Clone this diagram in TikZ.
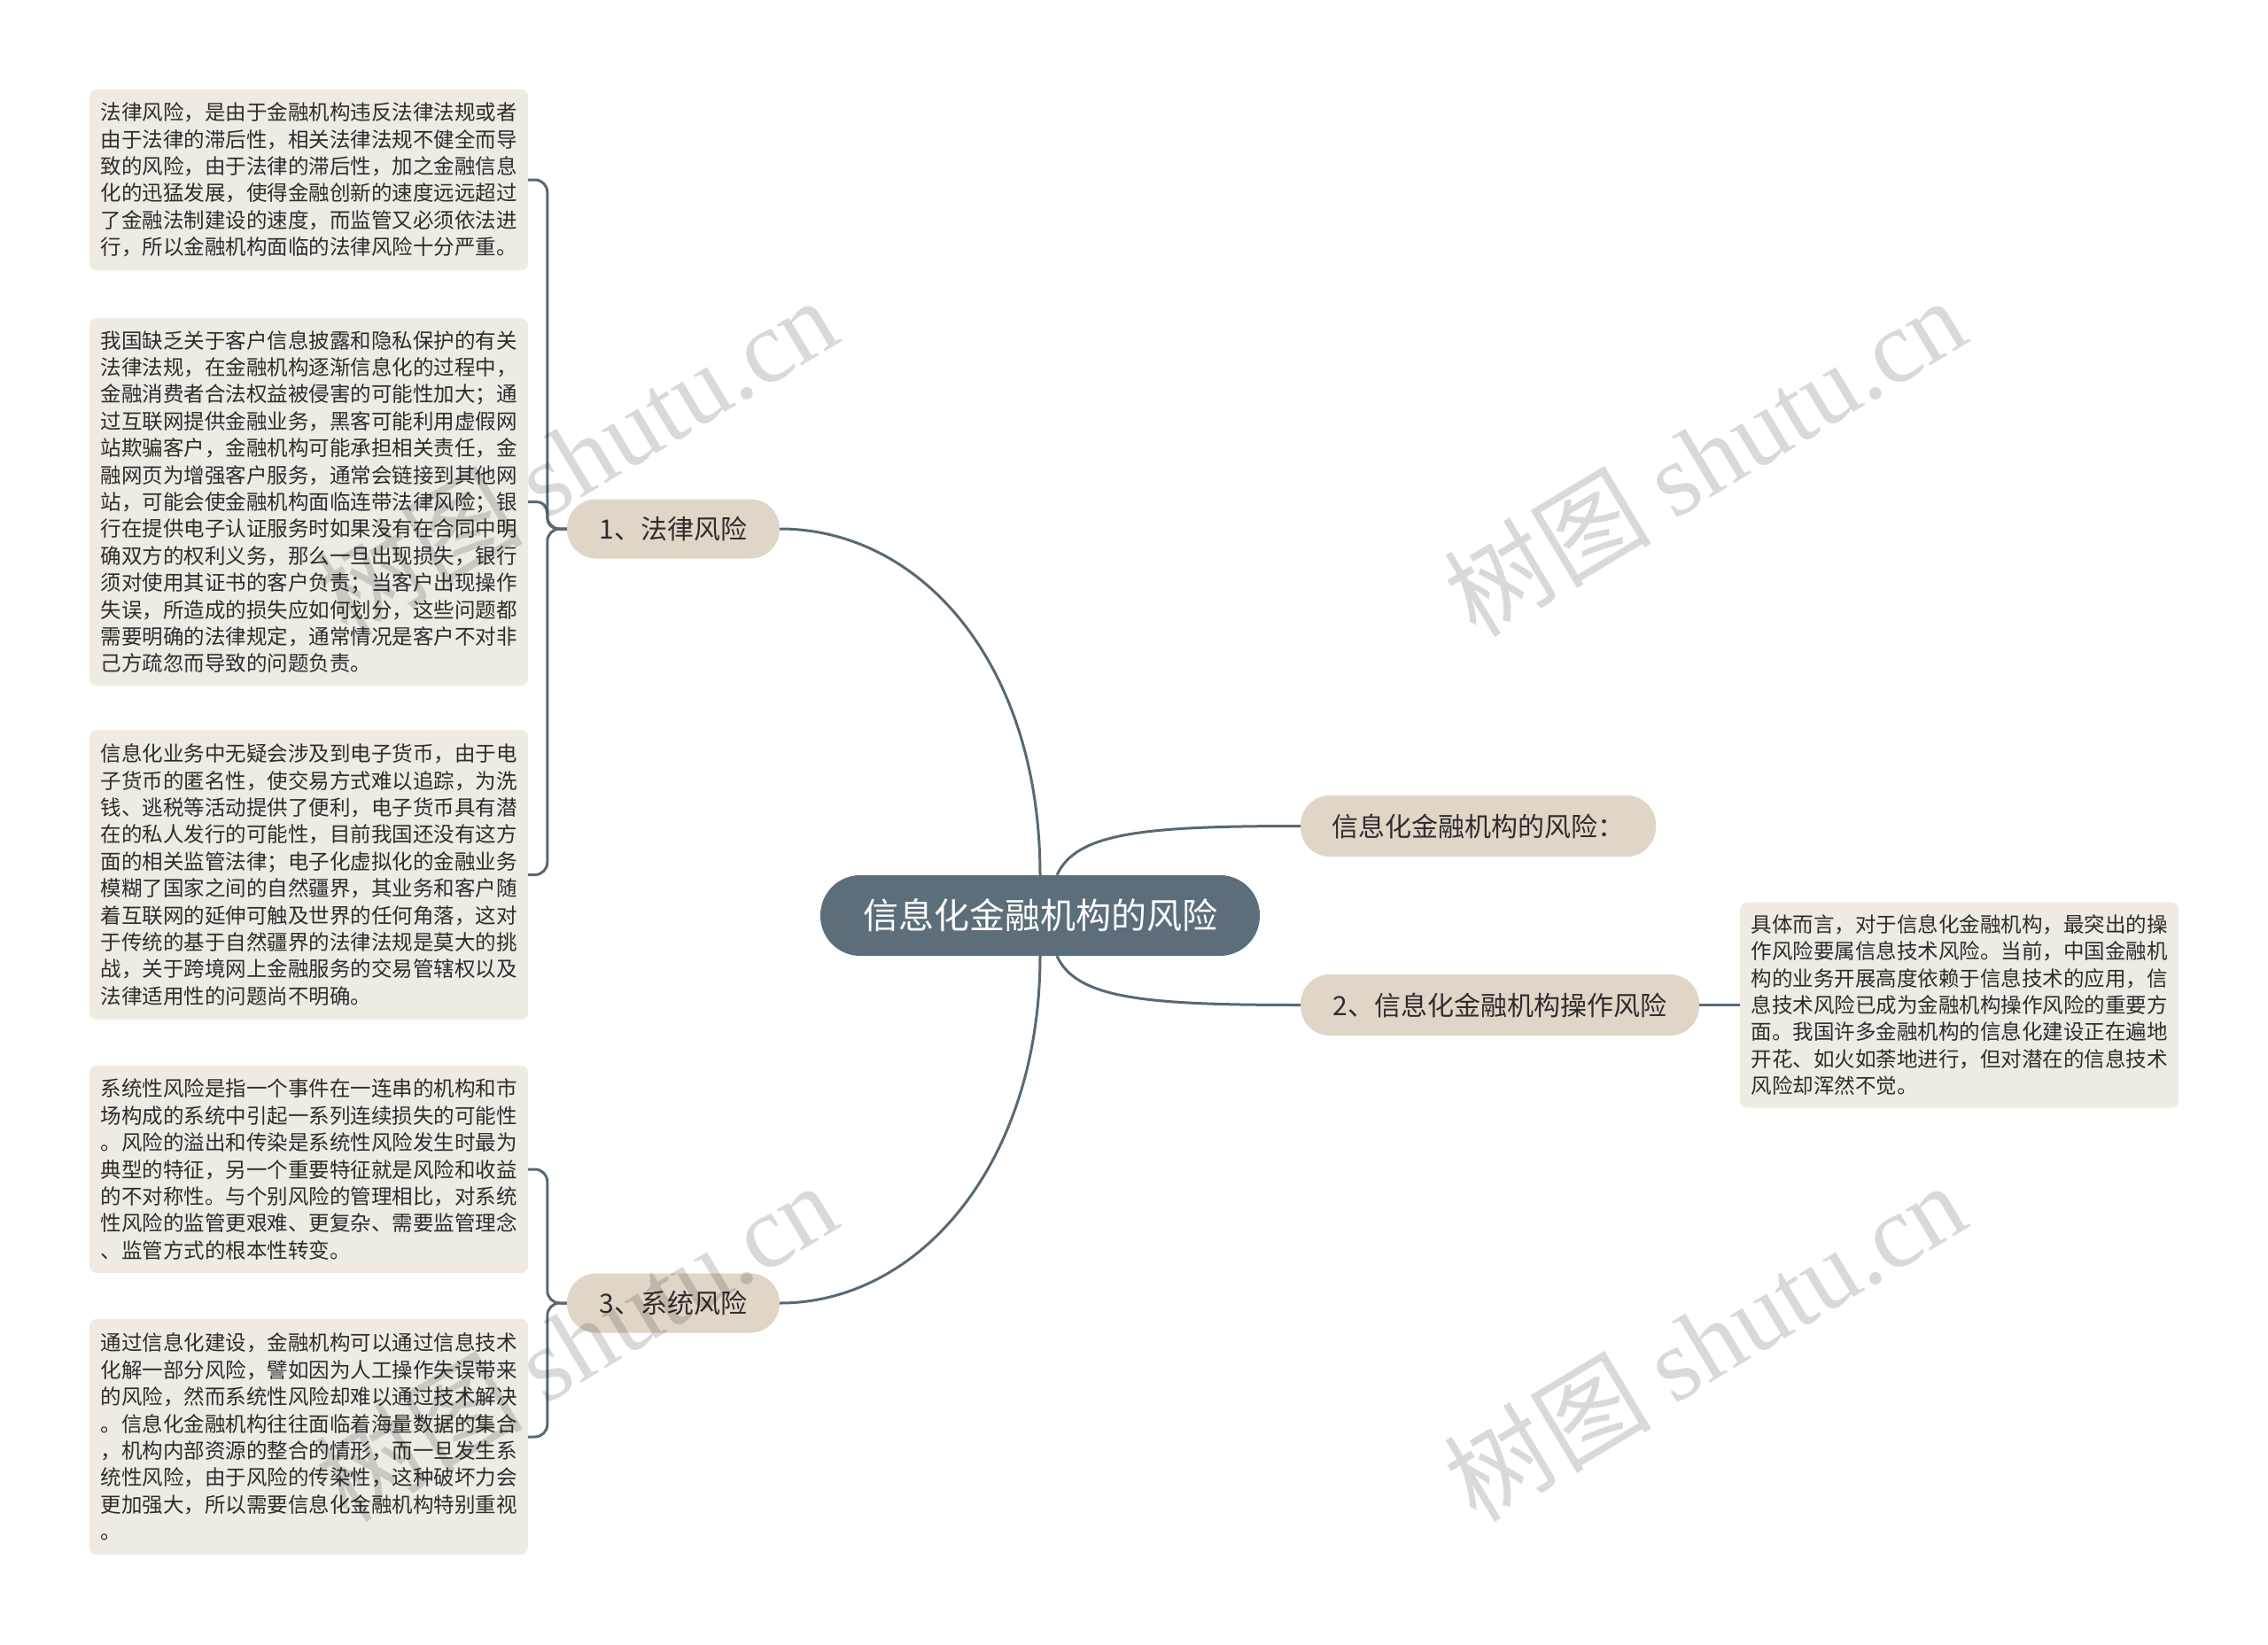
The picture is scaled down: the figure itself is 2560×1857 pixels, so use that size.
\documentclass[tikz,border=0pt]{standalone}
\usepackage{fontspec}
\setmainfont{Noto Sans CJK SC}
\newfontfamily\wmserif{Liberation Serif}
\usetikzlibrary{calc}
\definecolor{boxfill}{RGB}{239,235,227}
\definecolor{branchfill}{RGB}{224,214,199}
\definecolor{mainfill}{RGB}{92,110,122}
\definecolor{linecol}{RGB}{88,105,117}
\definecolor{txt}{RGB}{45,45,45}
\begin{document}
\begin{tikzpicture}[x=1pt,y=-1pt,
  descbox/.style={fill=boxfill, rounded corners=8, align=left, minimum width=495, inner xsep=0, inner ysep=0, font=\fontsize{23.5}{30.4}\selectfont, text=txt},
  branch/.style={fill=branchfill, rounded corners=33, minimum height=67, inner sep=0, font=\fontsize{30}{36}\selectfont, text=txt},
  centre/.style={fill=mainfill, rounded corners=45, minimum width=496, minimum height=91, inner sep=0, font=\fontsize{40}{48}\selectfont, text=white},
  conn/.style={draw=linecol, line width=3},
  wm/.style={text=black, text opacity=0.15, font=\fontsize{117}{125}\selectfont, rotate=31}]
\useasboundingbox[fill=white] (0,0) rectangle (2560,1857);

% central and branch nodes
\node[centre] (c) at (1174,1033.5) {信息化金融机构的风险};
\node[branch, minimum width=240] (n1) at (760,597) {1、法律风险};
\node[branch, minimum width=240] (n3) at (760,1471) {3、系统风险};
\node[branch, minimum width=401, minimum height=69] (r1) at (1668.5,932.5) {信息化金融机构的风险：};
\node[branch, minimum width=450, minimum height=69] (r2) at (1693,1134.5) {2、信息化金融机构操作风险};

% description boxes
\node[descbox, minimum height=204] (a) at (348.5,203) {法律风险，是由于金融机构违反法律法规或者\\由于法律的滞后性，相关法律法规不健全而导\\致的风险，由于法律的滞后性，加之金融信息\\化的迅猛发展，使得金融创新的速度远远超过\\了金融法制建设的速度，而监管又必须依法进\\行，所以金融机构面临的法律风险十分严重。};
\node[descbox, minimum height=415] (b) at (348.5,566.5) {我国缺乏关于客户信息披露和隐私保护的有关\\法律法规，在金融机构逐渐信息化的过程中，\\金融消费者合法权益被侵害的可能性加大；通\\过互联网提供金融业务，黑客可能利用虚假网\\站欺骗客户，金融机构可能承担相关责任，金\\融网页为增强客户服务，通常会链接到其他网\\站，可能会使金融机构面临连带法律风险；银\\行在提供电子认证服务时如果没有在合同中明\\确双方的权利义务，那么一旦出现损失，银行\\须对使用其证书的客户负责；当客户出现操作\\失误，所造成的损失应如何划分，这些问题都\\需要明确的法律规定，通常情况是客户不对非\\己方疏忽而导致的问题负责。};
\node[descbox, minimum height=327] (cc) at (348.5,987.5) {信息化业务中无疑会涉及到电子货币，由于电\\子货币的匿名性，使交易方式难以追踪，为洗\\钱、逃税等活动提供了便利，电子货币具有潜\\在的私人发行的可能性，目前我国还没有这方\\面的相关监管法律；电子化虚拟化的金融业务\\模糊了国家之间的自然疆界，其业务和客户随\\着互联网的延伸可触及世界的任何角落，这对\\于传统的基于自然疆界的法律法规是莫大的挑\\战，关于跨境网上金融服务的交易管辖权以及\\法律适用性的问题尚不明确。};
\node[descbox, minimum height=234] (d) at (348.5,1320) {系统性风险是指一个事件在一连串的机构和市\\场构成的系统中引起一系列连续损失的可能性\\。风险的溢出和传染是系统性风险发生时最为\\典型的特征，另一个重要特征就是风险和收益\\的不对称性。与个别风险的管理相比，对系统\\性风险的监管更艰难、更复杂、需要监管理念\\、监管方式的根本性转变。};
\node[descbox, minimum height=266] (e) at (348.5,1622) {通过信息化建设，金融机构可以通过信息技术\\化解一部分风险，譬如因为人工操作失误带来\\的风险，然而系统性风险却难以通过技术解决\\。信息化金融机构往往面临着海量数据的集合\\，机构内部资源的整合的情形，而一旦发生系\\统性风险，由于风险的传染性，这种破坏力会\\更加强大，所以需要信息化金融机构特别重视\\。};
\node[descbox, minimum height=232] (f) at (2211.5,1134.5) {具体而言，对于信息化金融机构，最突出的操\\作风险要属信息技术风险。当前，中国金融机\\构的业务开展高度依赖于信息技术的应用，信\\息技术风险已成为金融机构操作风险的重要方\\面。我国许多金融机构的信息化建设正在遍地\\开花、如火如荼地进行，但对潜在的信息技术\\风险却浑然不觉。};

% connectors from the centre
\draw[conn] (c.north) .. controls (1174,750) and (1040,597) .. (n1.east);
\draw[conn] (c.south) .. controls (1174,1310) and (1040,1471) .. (n3.east);
\draw[conn] ([xshift=19]c.north) .. controls (1215,940) and (1290,932.5) .. (r1.west);
\draw[conn] ([xshift=19]c.south) .. controls (1215,1127) and (1290,1134.5) .. (r2.west);

% brackets to description boxes
\draw[conn, rounded corners=14] (n1.west) -- ++(-22,0) |- (a.east);
\draw[conn, rounded corners=12] (n1.west) -- ++(-22,0) |- (b.east);
\draw[conn, rounded corners=14] (n1.west) -- ++(-22,0) |- (cc.east);
\draw[conn, rounded corners=14] (n3.west) -- ++(-22,0) |- (d.east);
\draw[conn, rounded corners=14] (n3.west) -- ++(-22,0) |- (e.east);
\draw[conn] (r2.east) -- (f.west);

% watermarks
\node[wm] (wm1) at (650,515) {树图 {\wmserif shutu.cn}};
\node[wm] (wm2) at (1924,515) {树图 {\wmserif shutu.cn}};
\node[wm] (wm3) at (650,1514) {树图 {\wmserif shutu.cn}};
\node[wm] (wm4) at (1924,1514) {树图 {\wmserif shutu.cn}};
\end{tikzpicture}
\end{document}
